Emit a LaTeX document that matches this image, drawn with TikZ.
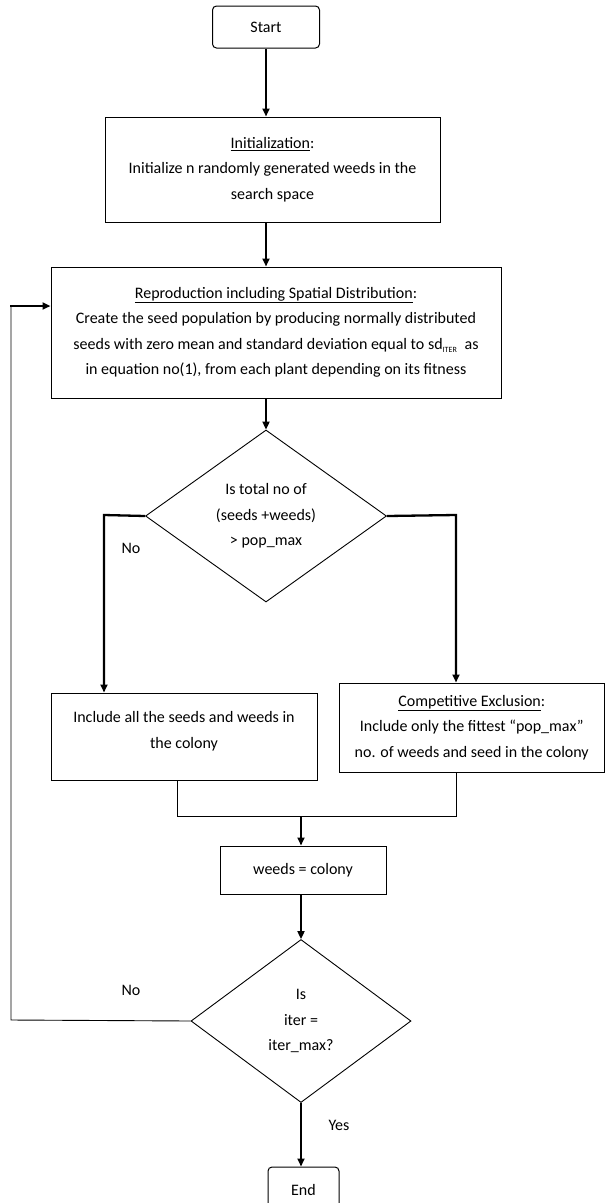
\documentclass[tikz,border=0pt]{standalone}
\usepackage{fontspec}
\setmainfont{Carlito}
\usetikzlibrary{shapes.geometric,arrows.meta}
\begin{document}
\begin{tikzpicture}[x=1pt,y=-1pt,
  txt/.style={font=\fontsize{16}{25.5}\selectfont, align=center},
  box/.style={txt, draw, line width=1pt, inner sep=0pt},
  term/.style={box, rounded corners=4pt},
  dec/.style={txt, draw, diamond, line width=0.9pt, inner sep=0pt},
  arr/.style={line width=2.3pt, -{Triangle[length=8pt,width=7pt]}},
  thin/.style={line width=0.9pt},
  lbl/.style={txt}
]
\useasboundingbox (0,0) rectangle (605,1203);

\node[term, minimum width=107pt, minimum height=42pt] (start) at (266,27) {Start};
\node[box, minimum width=335pt, minimum height=105pt] (init) at (272.5,169.5)
  {\underline{Initialization}:\\Initialize n randomly generated weeds in the\\search space};
\node[box, minimum width=450pt, minimum height=131pt] (repro) at (276,332.5)
  {\underline{Reproduction including Spatial Distribution}:\\
   Create the seed population by producing normally distributed\\
   seeds with zero mean and standard deviation equal to sd\textsubscript{\fontsize{8}{8}\selectfont ITER}\ \ as\\
   in equation no(1), from each plant depending on its fitness};
\node[dec, minimum width=241pt, minimum height=172pt] (d1) at (266,516)
  {Is total no of\\(seeds +weeds)\\> pop\_max};
\node[box, minimum width=266pt, minimum height=87pt] (left) at (184,736.5)
  {Include all the seeds and weeds in\\the colony\\[-12pt]};
\node[box, minimum width=265.5pt, minimum height=89pt] (right) at (471.75,727.5)
  {\underline{Competitive Exclusion}:\\Include only the fittest “pop\_max”\\no. of weeds and seed in the colony};
\node[box, minimum width=166pt, minimum height=48pt] (weeds) at (303,870) {weeds = colony};
\node[dec, minimum width=220pt, minimum height=163pt] (d2) at (301,1021)
  {Is\\iter =\\iter\_max?};
\node[term, minimum width=71pt, minimum height=46pt] (end) at (303.5,1190) {End};

\coordinate (lc) at (104,515);
\coordinate (rc) at (456,515);
\coordinate (lj) at (177,816);
\coordinate (rj) at (456,816);
\coordinate (mj) at (301,816);
\coordinate (lb) at (11,1020);
\coordinate (lt) at (11,306);

\draw[arr] (start) -- (start |- init.north);
\draw[arr] (init.south -| start) -- (repro.north -| start);
\draw[arr] (repro.south -| d1) -- (d1.north);
\draw[arr] (d1.west) -- (lc) -- (lc |- left.north);
\draw[arr] (d1.east) -- (rc) -- (rc |- right.north);
\draw[thin] (left.south -| lj) -- (lj) -- (rj) -- (right.south -| rj);
\draw[arr] (mj) -- (mj |- weeds.north);
\draw[arr] (weeds.south -| d2) -- (d2.north);
\draw[arr] (d2.south) -- (d2.south |- end.north);
\draw[thin] (d2.west) -- (lb) -- (lt);
\draw[arr] ([xshift=-1pt]lt) -- (lt -| repro.west);

\node[lbl] (no1) at (131,548) {No};
\node[lbl] (no2) at (131,990) {No};
\node[lbl] (yes) at (339,1125) {Yes};
\end{tikzpicture}
\end{document}
